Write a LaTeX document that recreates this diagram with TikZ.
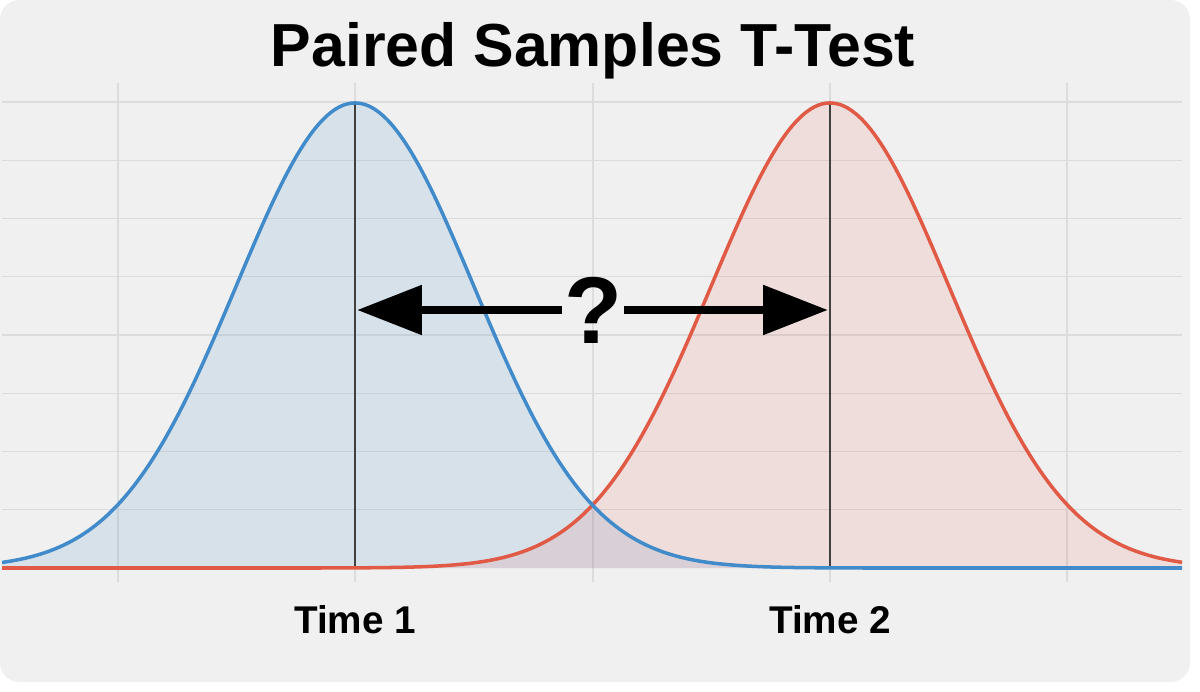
\documentclass[tikz,border=0pt]{standalone}
\usepackage{fontspec}
\setmainfont{Liberation Sans}
\usetikzlibrary{arrows.meta}
\definecolor{bgcol}{HTML}{F0F0F0}
\definecolor{gridcol}{HTML}{DCDCDC}
\definecolor{bluecurve}{RGB}{66,139,202}
\definecolor{redcurve}{RGB}{224,90,70}
\begin{document}
\begin{tikzpicture}[x=0.02cm, y=-0.02cm, >={Triangle[length=36.9pt, width=27.2pt]},
        gridline/.style={gridcol, line width=0.8pt},
        meanline/.style={black!75, line width=0.9pt},
        bellcurve/.style={line width=2pt, samples=160, domain=2:1182, smooth},
        timelabel/.style={font=\bfseries\fontsize{22}{26}\selectfont, anchor=base, inner sep=0pt}]
    \useasboundingbox (0,0) rectangle (1200,692);
    \fill[white] (0,0) rectangle (1200,692);
    \fill[bgcol, rounded corners=11pt] (0,0) rectangle (1190,682);
    % grid
    \foreach \k in {0,...,7}
        \draw[gridline] (2,{102+58.25*\k}) -- (1182,{102+58.25*\k});
    \foreach \gx in {118,355,593,830,1067}
        \draw[gridline] (\gx,83) -- (\gx,582);
    % areas
    \fill[bluecurve, opacity=0.14] (2,568) -- plot[bellcurve] (\x,{568-465*exp(-((\x-355)/118.75)^2/2)}) -- (1182,568) -- cycle;
    \fill[redcurve, opacity=0.12] (2,568) -- plot[bellcurve] (\x,{568-465*exp(-((\x-830)/118.75)^2/2)}) -- (1182,568) -- cycle;
    % means
    \coordinate (p1) at (355,103);
    \coordinate (b1) at (355,568);
    \coordinate (p2) at (830,103);
    \coordinate (b2) at (830,568);
    \draw[meanline] (p1) -- (b1);
    \draw[meanline] (p2) -- (b2);
    % curves
    \draw[redcurve, bellcurve] plot (\x,{568-465*exp(-((\x-830)/118.75)^2/2)});
    \draw[bluecurve, bellcurve] plot (\x,{568-465*exp(-((\x-355)/118.75)^2/2)});
    % title and labels
    \node[font=\bfseries\fontsize{34.6}{40}\selectfont, anchor=base, inner sep=0pt] (title) at (593,67) {Paired Samples T-Test};
    \node[timelabel] (t1lab) at (355,633) {Time 1};
    \node[timelabel] (t2lab) at (830,633) {Time 2};
    % difference
    \node[font=\bfseries\fontsize{54}{60}\selectfont, inner sep=1pt] (q) at (593,310) {?};
    \coordinate (tip1) at (357,310);
    \coordinate (tip2) at (828,310);
    \draw[->, line width=5.1pt] (q.west) -- (tip1);
    \draw[->, line width=5.1pt] (q.east) -- (tip2);
\end{tikzpicture}
\end{document}
